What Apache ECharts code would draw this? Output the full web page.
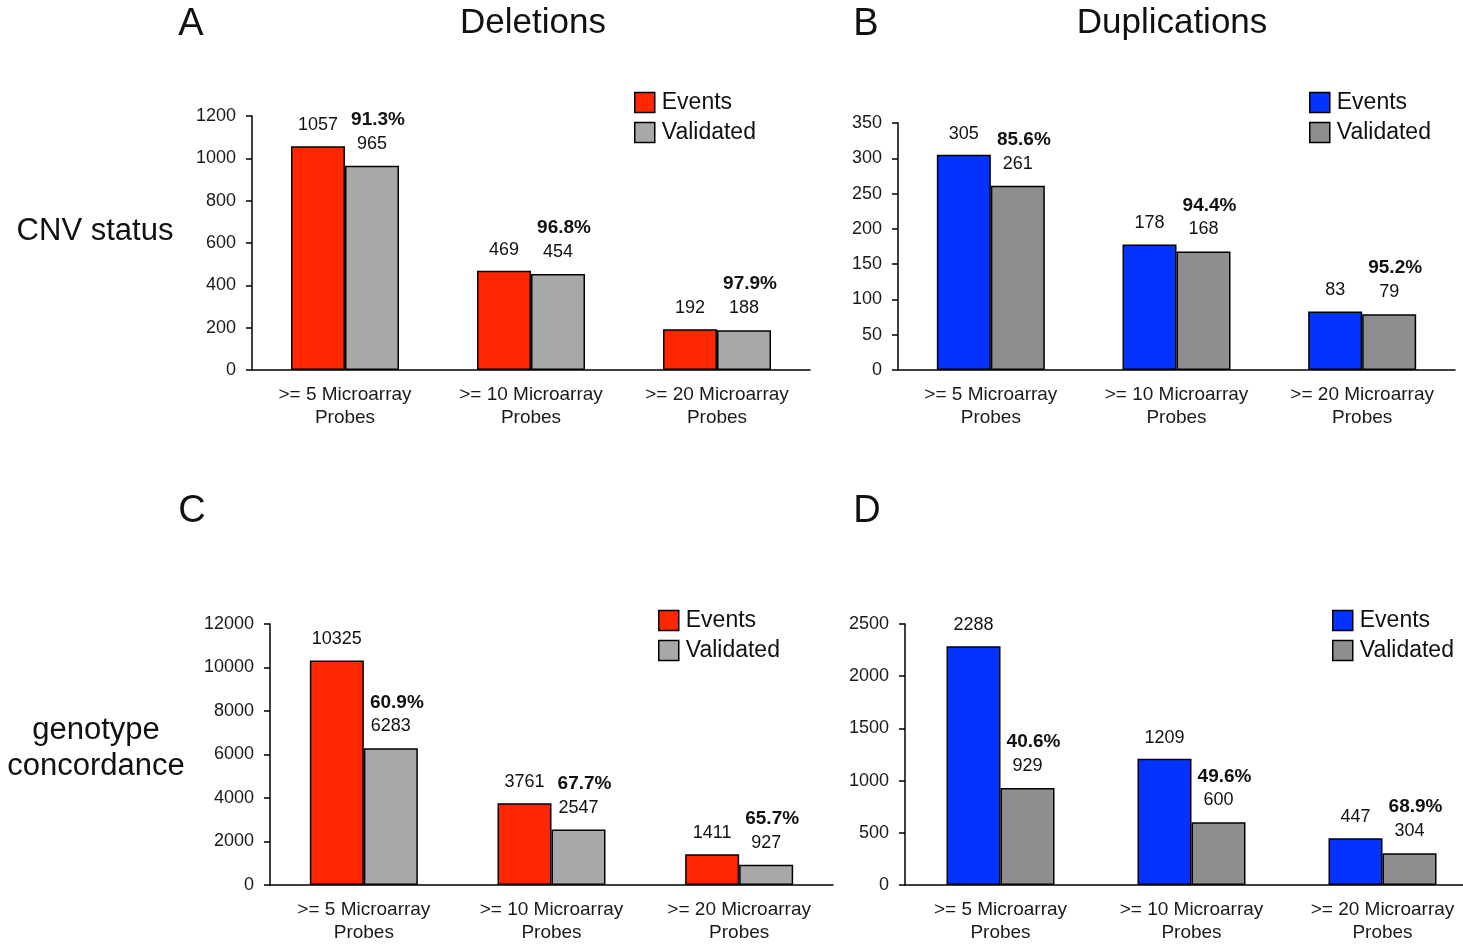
<!DOCTYPE html>
<html>
<head>
<meta charset="utf-8">
<script src="https://cdn.jsdelivr.net/npm/echarts@6/dist/echarts.min.js"></script>
<style>
html,body{margin:0;padding:0;background:#fff;overflow:hidden;}
#main{width:1463px;height:946px;}
</style>
</head>
<body>
<div id="main"></div>
<script>
var categories = ['>= 5 Microarray\nProbes', '>= 10 Microarray\nProbes', '>= 20 Microarray\nProbes'];

var delEvents = [1057, 469, 192];
var delValidated = [965, 454, 188];
var delPct = ['91.3%', '96.8%', '97.9%'];

var dupEvents = [305, 178, 83];
var dupValidated = [261, 168, 79];
var dupPct = ['85.6%', '94.4%', '95.2%'];

var gtDelEvents = [10325, 3761, 1411];
var gtDelValidated = [6283, 2547, 927];
var gtDelPct = ['60.9%', '67.7%', '65.7%'];

var gtDupEvents = [2288, 1209, 447];
var gtDupValidated = [929, 600, 304];
var gtDupPct = ['40.6%', '49.6%', '68.9%'];

var yMax = [1200, 350, 12000, 2500];
var yInterval = [200, 50, 2000, 500];

var FONT = "'Liberation Sans', Arial, Helvetica, sans-serif";
var RED = '#ff2600', BLUE = '#0433ff', GRAY_L = '#a8a8a8', GRAY_D = '#8e8e8e';

var grids = [
  {left: 252, width: 558, top: 116, height: 254, outerBoundsMode: 'none', containLabel: false},
  {left: 898, width: 557, top: 123, height: 247, outerBoundsMode: 'none', containLabel: false},
  {left: 270, width: 563, top: 624, height: 261, outerBoundsMode: 'none', containLabel: false},
  {left: 905, width: 573, top: 624, height: 261, outerBoundsMode: 'none', containLabel: false}
];

var panels = [
  {ev: delEvents, va: delValidated, pct: delPct, evColor: RED, vaColor: GRAY_L},
  {ev: dupEvents, va: dupValidated, pct: dupPct, evColor: BLUE, vaColor: GRAY_D},
  {ev: gtDelEvents, va: gtDelValidated, pct: gtDelPct, evColor: RED, vaColor: GRAY_L},
  {ev: gtDupEvents, va: gtDupValidated, pct: gtDupPct, evColor: BLUE, vaColor: GRAY_D}
];

var xAxes = [], yAxes = [], series = [], legends = [];
var legendPos = [[634, 91], [1309, 91], [658, 609], [1332, 609]];

panels.forEach(function (p, i) {
  xAxes.push({
    type: 'category', gridIndex: i, data: categories,
    axisLine: {lineStyle: {color: '#000', width: 1.5}},
    axisTick: {show: false},
    axisLabel: {color: '#1a1a1a', fontFamily: FONT, fontSize: 19, lineHeight: 23, margin: 13, interval: 0}
  });
  yAxes.push({
    type: 'value', gridIndex: i, min: 0, max: yMax[i], interval: yInterval[i],
    axisLine: {show: true, lineStyle: {color: '#000', width: 1.5}},
    axisTick: {show: true, length: 6, lineStyle: {color: '#000', width: 1.5}},
    splitLine: {show: false},
    axisLabel: {color: '#1a1a1a', fontFamily: FONT, fontSize: 18, margin: 16,
      formatter: function (v) { return String(v); }}
  });
  series.push({
    name: 'Events', type: 'bar', xAxisIndex: i, yAxisIndex: i,
    data: p.ev, barWidth: 54, barGap: '0%',
    itemStyle: {color: p.evColor, borderColor: '#000', borderWidth: 1.5},
    label: {show: true, position: 'top', distance: 12, color: '#111', fontFamily: FONT, fontSize: 18}
  });
  series.push({
    name: 'Validated', type: 'bar', xAxisIndex: i, yAxisIndex: i,
    data: p.va, barWidth: 54, barGap: '0%',
    itemStyle: {color: p.vaColor, borderColor: '#000', borderWidth: 1.5},
    label: {
      show: true, position: 'top', distance: 12,
      formatter: (function (pct) {
        return function (d) { return '{b|' + pct[d.dataIndex] + '}\n{n|' + d.value + '}'; };
      })(p.pct),
      rich: {
        b: {fontFamily: FONT, fontSize: 19, fontWeight: 'bold', color: '#111', lineHeight: 28, padding: [0, 0, 0, 12]},
        n: {fontFamily: FONT, fontSize: 18, color: '#111', lineHeight: 20}
      }
    }
  });
  legends.push({
    orient: 'vertical', left: legendPos[i][0], top: legendPos[i][1],
    padding: 0,
    itemWidth: 20, itemHeight: 20, itemGap: 7,
    icon: 'rect',
    itemStyle: {borderColor: '#000', borderWidth: 1.5},
    textStyle: {fontFamily: FONT, fontSize: 23, color: '#111', padding: [0, 0, 0, 2]},
    selectedMode: false,
    data: [
      {name: 'Events', itemStyle: {color: p.evColor, borderColor: '#000', borderWidth: 1.5}},
      {name: 'Validated', itemStyle: {color: p.vaColor, borderColor: '#000', borderWidth: 1.5}}
    ]
  });
});

function t(text, x, y, size, extra) {
  var s = {text: text, fontFamily: FONT, fontSize: size, fill: '#111', align: 'center', verticalAlign: 'middle'};
  if (extra) for (var k in extra) s[k] = extra[k];
  return {type: 'text', x: x, y: y, style: s};
}

var chart = echarts.init(document.getElementById('main'), null, {renderer: 'canvas'});
chart.setOption({
  backgroundColor: '#fff',
  animation: false,
  grid: grids,
  xAxis: xAxes,
  yAxis: yAxes,
  series: series,
  legend: legends,
  graphic: [
    t('A', 191, 25, 38),
    t('Deletions', 533, 23, 35),
    t('B', 866, 25, 38),
    t('Duplications', 1172, 23, 35),
    t('C', 192, 512, 38),
    t('D', 867, 512, 38),
    t('CNV status', 95, 231, 31),
    t('genotype\nconcordance', 96, 748, 31, {lineHeight: 36})
  ]
});
</script>
</body>
</html>
